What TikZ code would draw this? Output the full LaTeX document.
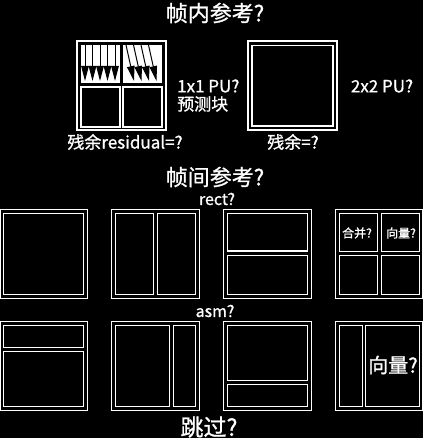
\documentclass[tikz,border=0pt]{standalone}
\usepackage{fontspec}
\setmainfont{Noto Sans CJK SC}[FakeBold=1]
\usetikzlibrary{arrows.meta}

\begin{document}
\begin{tikzpicture}[x=1pt,y=-1pt,>=stealth,
  blk/.style={draw=white, line width=1.1pt},
  lbl/.style={text=white, inner sep=0pt},
  dirarrow/.style={black, line width=1pt, -{Triangle[width=7.5pt,length=15pt]}}]
% Background
\fill[black] (0,0) rectangle (423,438);
\useasboundingbox (0,0) rectangle (423,438);

% Intra prediction
\node[lbl, font=\fontsize{22}{24}\selectfont] (intra) at (215,13) {帧内参考?};

% 1x1 PU block with prediction directions
\draw[blk] (77,41) rectangle (166,130);
\fill[white] (81,45) rectangle (120,83);
\fill[white] (123,45) rectangle (162,83);
\foreach \x in {85,92.5,...,116} \draw[dirarrow] (\x,45) -- (\x,81);
\foreach \x in {126,133.5,...,152} \draw[dirarrow] (\x,45) -- (\x+8,81);
\draw[blk] (81,87) rectangle (120,127);
\draw[blk] (123,87) rectangle (162,127);
\node[lbl, font=\fontsize{17}{19}\selectfont, anchor=west] (pu1) at (177,86) {1x1 PU?};
\node[lbl, font=\fontsize{17}{19}\selectfont, anchor=west] (pred) at (177,104) {预测块};
\node[lbl, font=\fontsize{17}{19}\selectfont] (res1) at (125,142) {残余residual=?};

% 2x2 PU block
\draw[blk] (248,41) rectangle (337,130);
\draw[blk] (252,45.5) rectangle (333,126);
\node[lbl, font=\fontsize{17}{19}\selectfont] (pu2) at (382,86) {2x2 PU?};
\node[lbl, font=\fontsize{17}{19}\selectfont] (res2) at (293,142) {残余=?};

% Inter prediction
\node[lbl, font=\fontsize{22}{24}\selectfont] (inter) at (215,177) {帧间参考?};
\node[lbl, font=\fontsize{16}{18}\selectfont] (rect) at (217,199) {rect?};

% Row 1: symmetric partitions
\draw[blk] (0.6,209.3) rectangle (87.7,298.3);
\draw[blk] (3.7,213.3) rectangle (83.5,294.3);

\draw[blk] (111.3,209.3) rectangle (199.3,298.3);
\draw[blk] (115.3,213.3) rectangle (153.7,294.3);
\draw[blk] (157.3,213.3) rectangle (195.7,294.3);

\draw[blk] (223.3,209.3) rectangle (311.7,298.3);
\draw[blk] (227.3,213.3) rectangle (307.3,251);
\draw[blk] (227.3,255.3) rectangle (307.3,294.3);

\draw[blk] (335.3,209.3) rectangle (422.4,298.3);
\draw[blk] (339.3,213.3) rectangle (377.7,251.3);
\draw[blk] (381.3,213.3) rectangle (419.5,251.3);
\draw[blk] (339.3,255.3) rectangle (377.7,294.3);
\draw[blk] (381.3,255.3) rectangle (419.5,294.3);
\node[lbl, font=\fontsize{12}{14}\selectfont] (merge) at (357,233) {合并?};
\node[lbl, font=\fontsize{12}{14}\selectfont] (mv1) at (401,233) {向量?};

% Row 2: asymmetric partitions
\node[lbl, font=\fontsize{16}{18}\selectfont] (asm) at (215,311) {asm?};

\draw[blk] (0.6,321.3) rectangle (87.7,410.3);
\draw[blk] (3.7,325.3) rectangle (83.5,347.3);
\draw[blk] (3.7,351.3) rectangle (83.5,406.7);

\draw[blk] (111.3,321.3) rectangle (199.3,410.3);
\draw[blk] (115.3,325.3) rectangle (169.7,406.7);
\draw[blk] (173.3,325.3) rectangle (195.7,406.7);

\draw[blk] (223.3,321.3) rectangle (311.7,410.3);
\draw[blk] (227.3,325.3) rectangle (307.3,380.7);
\draw[blk] (227.3,384.3) rectangle (307.3,406.7);

\draw[blk] (335.3,321.3) rectangle (422.4,410.3);
\draw[blk] (339.3,325.3) rectangle (362.7,406.7);
\draw[blk] (365.3,325.3) rectangle (419.5,406.7);
\node[lbl, font=\fontsize{20}{22}\selectfont] (mv2) at (393,365) {向量?};

% Skip
\node[lbl, font=\fontsize{23}{25}\selectfont] (skip) at (209,427) {跳过?};
\end{tikzpicture}
\end{document}
